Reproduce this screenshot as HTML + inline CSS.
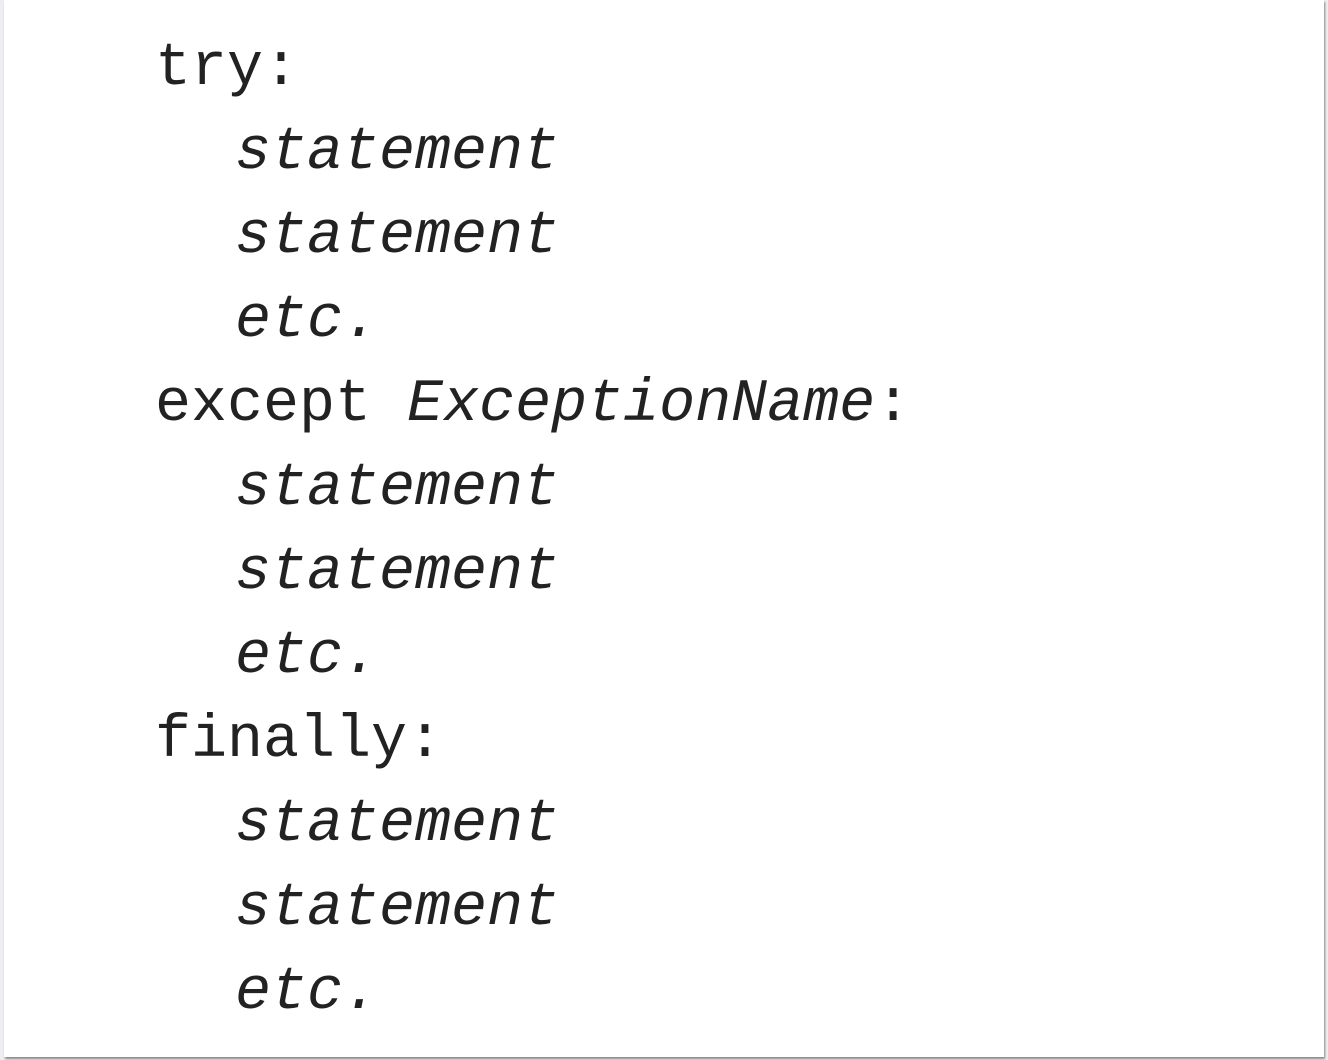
<!DOCTYPE html>
<html><head><style>
html,body{margin:0;padding:0;}
body{width:1328px;height:1060px;background:#edeef1;position:relative;overflow:hidden;}
.page{position:absolute;left:4px;top:0;width:1320px;height:1057px;background:#fff;box-shadow:1px 2px 2px #888;}
.c{position:absolute;left:155px;top:27px;margin:0;font-family:"Liberation Mono",monospace;font-size:60px;line-height:84px;color:#222;}
.c div{height:84px;white-space:pre;}
.c .in{padding-left:80px;font-style:italic;}
i{font-style:italic;}
</style></head><body>
<div class="page"></div>
<div class="c"><div>try:</div><div class="in">statement</div><div class="in">statement</div><div class="in">etc.</div><div>except <i>ExceptionName</i>:</div><div class="in">statement</div><div class="in">statement</div><div class="in">etc.</div><div>finally:</div><div class="in">statement</div><div class="in">statement</div><div class="in">etc.</div></div>
</body></html>
